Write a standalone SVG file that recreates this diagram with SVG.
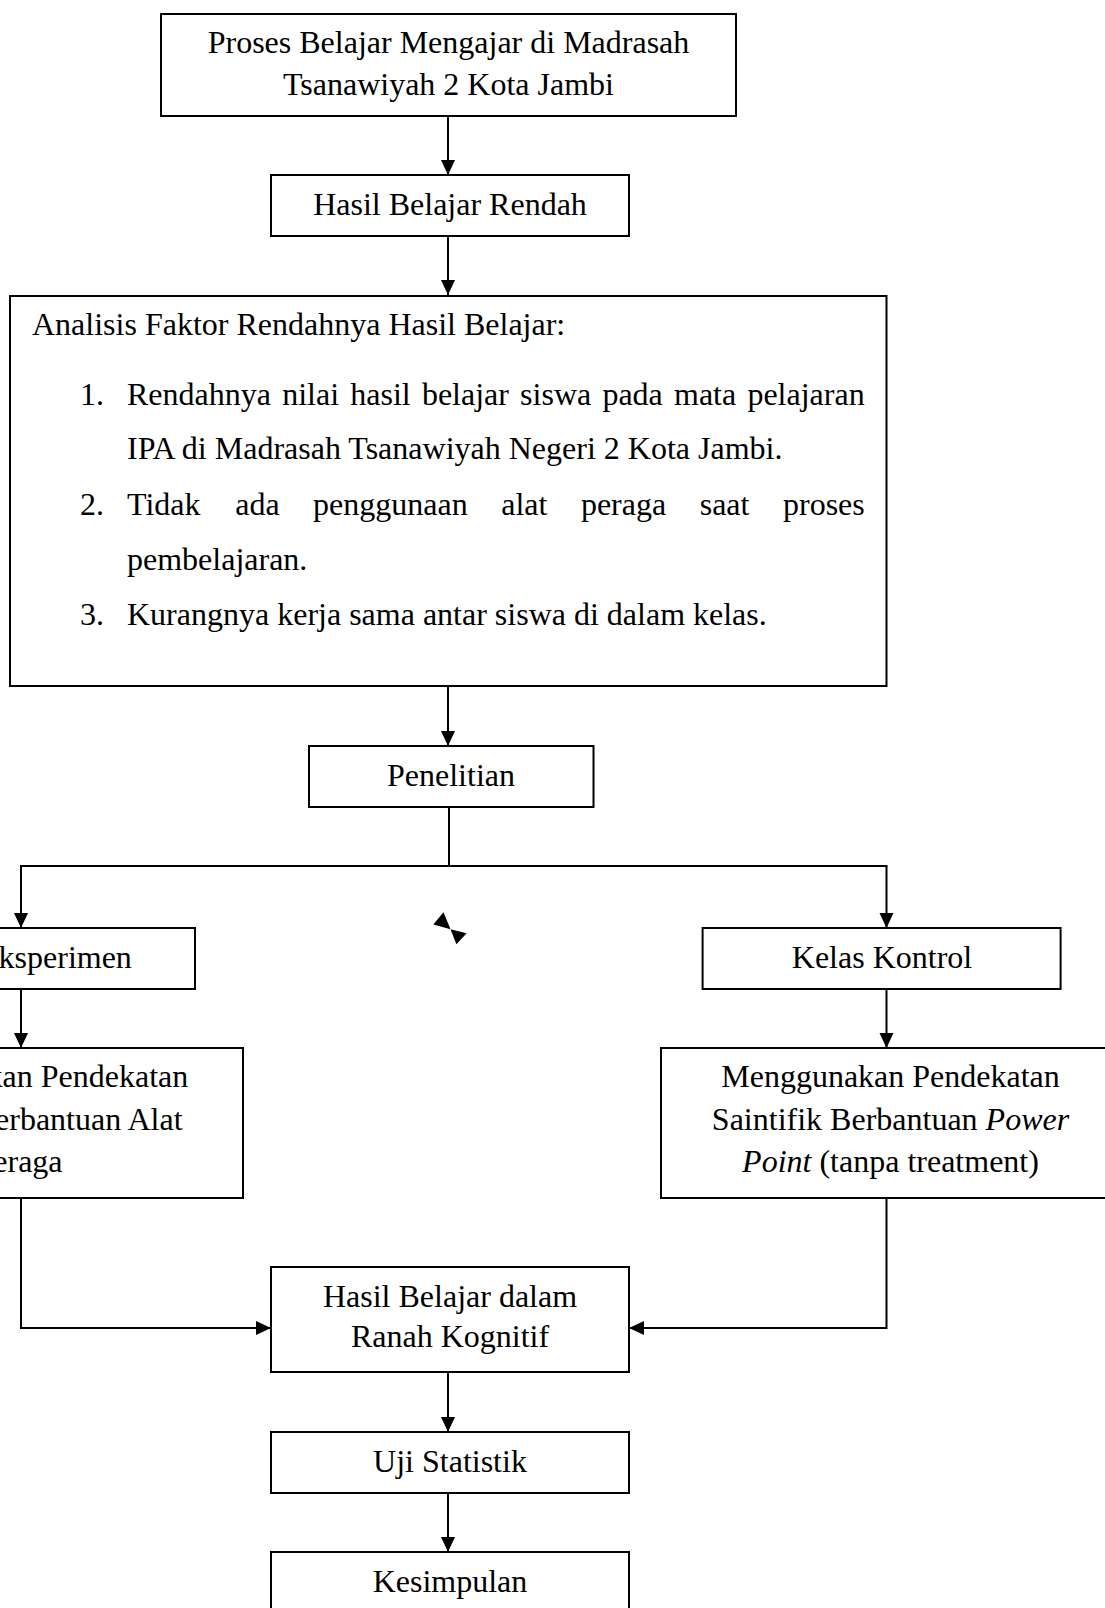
<svg xmlns="http://www.w3.org/2000/svg" width="1105" height="1608" viewBox="0 0 1105 1608">
<style>
.box{fill:#fff;stroke:#000;stroke-width:2}
.t{font-family:"Liberation Serif","Times New Roman",serif;font-size:32px;fill:#000}
.c{text-anchor:middle}
.ln{fill:none;stroke:#000;stroke-width:2}
</style>
<defs>
<marker id="ah" markerUnits="userSpaceOnUse" markerWidth="16" markerHeight="16" refX="15" refY="7.5" orient="auto">
<path d="M0,0.5 L15,7.5 L0,14.5 Z" fill="#000"/>
</marker>
</defs>
<rect width="1105" height="1608" fill="#fff"/>
<g id="connectors">
<line class="ln" x1="448" y1="116" x2="448" y2="175" marker-end="url(#ah)"/>
<line class="ln" x1="448" y1="236" x2="448" y2="295" marker-end="url(#ah)"/>
<line class="ln" x1="448" y1="686" x2="448" y2="746" marker-end="url(#ah)"/>
<polyline class="ln" points="449,807 449,866"/>
<line class="ln" x1="20" y1="866" x2="887.5" y2="866"/>
<line class="ln" x1="21" y1="866" x2="21" y2="928" marker-end="url(#ah)"/>
<line class="ln" x1="886.5" y1="866" x2="886.5" y2="928" marker-end="url(#ah)"/>
<line class="ln" x1="21" y1="989" x2="21" y2="1048" marker-end="url(#ah)"/>
<line class="ln" x1="886.5" y1="989" x2="886.5" y2="1048" marker-end="url(#ah)"/>
<polyline class="ln" points="21,1198 21,1328 271,1328" marker-end="url(#ah)"/>
<polyline class="ln" points="886.5,1198 886.5,1328 629,1328" marker-end="url(#ah)"/>
<line class="ln" x1="448" y1="1372" x2="448" y2="1432" marker-end="url(#ah)"/>
<line class="ln" x1="448" y1="1493" x2="448" y2="1552" marker-end="url(#ah)"/>
<polygon points="443.5,912.3 433.3,924.5 450.5,929.3" fill="#000"/>
<polygon points="450.5,929.3 466.6,933.3 456.4,944.3" fill="#000"/>
</g>
<g id="proses">
<rect class="box" x="161" y="14" width="575" height="102"/>
<text class="t c" x="448.5" y="53">Proses Belajar Mengajar di Madrasah</text>
<text class="t c" x="448.5" y="94.5">Tsanawiyah 2 Kota Jambi</text>
</g>
<g id="hasil-rendah">
<rect class="box" x="271" y="175" width="358" height="61"/>
<text class="t c" x="450" y="214.5">Hasil Belajar Rendah</text>
</g>
<g id="analisis">
<rect class="box" x="10" y="296" width="876.5" height="390"/>
<text class="t" x="32" y="335">Analisis Faktor Rendahnya Hasil Belajar:</text>
<text class="t" y="404.5"><tspan x="80">1.</tspan><tspan x="127">Rendahnya</tspan><tspan x="282.2">nilai</tspan><tspan x="350.3">hasil</tspan><tspan x="421.9">belajar</tspan><tspan x="520.1">siswa</tspan><tspan x="602.4">pada</tspan><tspan x="674">mata</tspan><tspan x="747.4">pelajaran</tspan></text>
<text class="t" x="127" y="458.5">IPA di Madrasah Tsanawiyah Negeri 2 Kota Jambi.</text>
<text class="t" y="514.5"><tspan x="80">2.</tspan><tspan x="127">Tidak</tspan><tspan x="235.2">ada</tspan><tspan x="313.1">penggunaan</tspan><tspan x="501.2">alat</tspan><tspan x="580.9">peraga</tspan><tspan x="699.7">saat</tspan><tspan x="783">proses</tspan></text>
<text class="t" x="127" y="569.5">pembelajaran.</text>
<text class="t" y="624.5"><tspan x="80">3.</tspan><tspan x="127">Kurangnya kerja sama antar siswa di dalam kelas.</tspan></text>
</g>
<g id="penelitian">
<rect class="box" x="309" y="746" width="284.5" height="61"/>
<text class="t c" x="451" y="785.5">Penelitian</text>
</g>
<g id="kelas-eksperimen">
<rect class="box" x="-163" y="928" width="358" height="61"/>
<text class="t c" x="15" y="967.5">Kelas Eksperimen</text>
</g>
<g id="kelas-kontrol">
<rect class="box" x="702.6" y="928" width="358" height="61"/>
<text class="t c" x="882" y="967.5">Kelas Kontrol</text>
</g>
<g id="pendekatan-eksperimen">
<rect class="box" x="-216.5" y="1048" width="459.5" height="150"/>
<text class="t c" x="19" y="1087">Menggunakan Pendekatan</text>
<text class="t c" x="19" y="1130">Saintifik Berbantuan Alat</text>
<text class="t c" x="19" y="1171.5">Peraga</text>
</g>
<g id="pendekatan-kontrol">
<rect class="box" x="661" y="1048" width="459.5" height="150"/>
<text class="t c" x="890.5" y="1087">Menggunakan Pendekatan</text>
<text class="t c" x="890.5" y="1130">Saintifik Berbantuan <tspan font-style="italic">Power</tspan></text>
<text class="t c" x="890.5" y="1171.5"><tspan font-style="italic">Point</tspan> (tanpa treatment)</text>
</g>
<g id="hasil-kognitif">
<rect class="box" x="271" y="1267" width="358" height="105"/>
<text class="t c" x="450" y="1307">Hasil Belajar dalam</text>
<text class="t c" x="450" y="1347">Ranah Kognitif</text>
</g>
<g id="uji-statistik">
<rect class="box" x="271" y="1432" width="358" height="61"/>
<text class="t c" x="450" y="1472">Uji Statistik</text>
</g>
<g id="kesimpulan">
<rect class="box" x="271" y="1552" width="358" height="62"/>
<text class="t c" x="450" y="1592">Kesimpulan</text>
</g>
</svg>
